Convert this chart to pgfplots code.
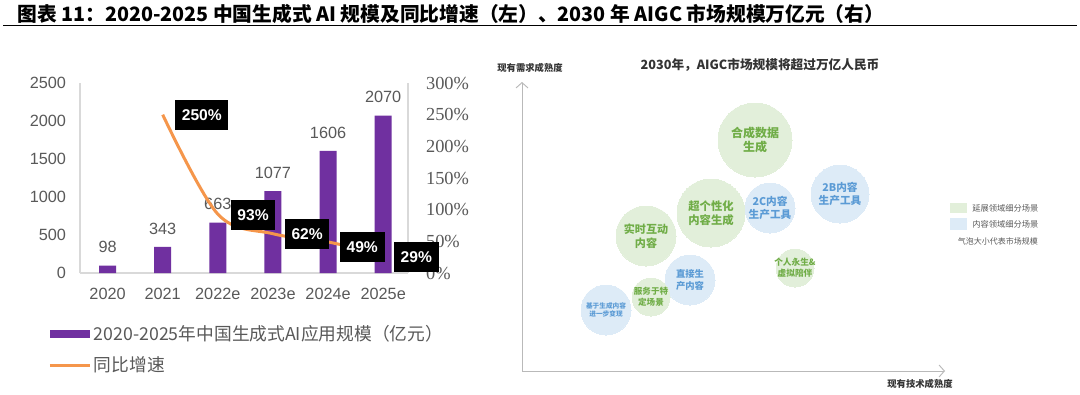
\documentclass[border=0pt]{standalone}
\usepackage{fontspec}
\setmainfont{Liberation Sans}
\newfontfamily\cjk{Noto Sans CJK SC}
\newfontfamily\serifnum{Liberation Serif}
\usepackage{pgfplots}
\pgfplotsset{compat=1.18}
\usetikzlibrary{arrows.meta}
\definecolor{barpurple}{RGB}{112,48,160}
\definecolor{lineorange}{RGB}{245,150,75}
\definecolor{txtgray}{RGB}{89,89,89}
\definecolor{axgray}{RGB}{217,217,217}
\definecolor{gfill}{RGB}{226,239,218}
\definecolor{bfill}{RGB}{221,235,247}
\definecolor{gtext}{RGB}{112,173,71}
\definecolor{btext}{RGB}{91,155,213}
\tikzset{pbox/.style={fill=black, text=white, font=\bfseries\fontsize{11.7}{13}\selectfont, inner xsep=5pt, minimum height=22pt},
  gl/.style 2 args={font=\cjk\bfseries\fontsize{#1}{#2}\selectfont, text=gtext, align=center, inner sep=0pt},
  bl/.style 2 args={font=\cjk\bfseries\fontsize{#1}{#2}\selectfont, text=btext, align=center, inner sep=0pt}}
\pgfplotsset{
  gb/.style={only marks, mark=*, color=gfill, mark options={fill=gfill, draw=gfill, line width=0pt}},
  bb/.style={only marks, mark=*, color=bfill, mark options={fill=bfill, draw=bfill, line width=0pt}}}
\begin{document}
\begin{tikzpicture}
\path[fill=white] (0,0) rectangle (810pt,295.5pt);
\node[anchor=west, inner sep=0pt, font=\cjk\bfseries\fontsize{14.8}{16}\selectfont] at (12.75pt,285pt) {图表 11：2020-2025 中国生成式 AI 规模及同比增速（左）、2030 年 AIGC 市场规模万亿元（右）};
\draw[line width=1.1pt] (2.25pt,276.2pt) -- (807.75pt,276.2pt);

% ---------- left chart: bars ----------
\begin{axis}[
  at={(60pt,90.75pt)}, anchor=south west, scale only axis,
  width=246pt, height=142.5pt,
  xmin=-0.5, xmax=5.45, ymin=0, ymax=2500,
  axis x line*=bottom, axis y line*=left,
  axis line style={draw=axgray, line width=0.8pt},
  xtick={0,...,5}, xticklabels={2020,2021,2022e,2023e,2024e,2025e},
  ytick={0,500,...,2500},
  major tick length=0pt,
  tick label style={font=\fontsize{12.2}{14}\selectfont, text=txtgray},
  /pgf/number format/assume math mode=true,
  /pgf/number format/1000 sep={},
  yticklabel style={xshift=-7pt},
  xticklabel style={yshift=-8pt},
  clip=false,
  legend cell align=left,
  legend style={at={(-0.0976,-0.258)}, anchor=north west, draw=none, fill=none, inner sep=0pt,
    font=\cjk\fontsize{13.3}{15}\selectfont, text=txtgray, row sep=7pt,
    /tikz/every even column/.style={column sep=3pt}},
]
\addplot[ybar, bar width=12.75pt, fill=barpurple, draw=none,
  nodes near coords,
  nodes near coords style={font=\fontsize{12.2}{14}\selectfont, text=txtgray, yshift=6pt},
  legend image code/.code={\fill[barpurple] (0pt,-3pt) rectangle (30pt,3pt);}]
  coordinates {(0,98)(1,343)(2,663)(3,1077)(4,1606)(5,2070)};
\addlegendentry{2020-2025年中国生成式AI应用规模（亿元）}
\addlegendimage{lineorange, legend image code/.code={\draw[lineorange, line width=2.25pt] (0pt,0pt) -- (30pt,0pt);}}
\addlegendentry{同比增速}
\end{axis}

% ---------- left chart: growth line ----------
\begin{axis}[
  at={(60pt,90.75pt)}, anchor=south west, scale only axis,
  width=246pt, height=142.5pt,
  xmin=-0.5, xmax=5.45, ymin=0, ymax=300,
  axis x line=none, axis y line*=right, xtick=\empty,
  axis line style={draw=axgray, line width=0.8pt},
  ytick={0,50,...,300},
  yticklabel={\pgfmathprintnumber{\tick}\%},
  major tick length=0pt,
  yticklabel style={font=\serifnum\fontsize{13.8}{15}\selectfont, text=txtgray, xshift=10pt},
  /pgf/number format/assume math mode=true,
  clip=false,
]
\addplot[lineorange, line width=2.25pt, smooth, tension=0.55] coordinates {(1,250)(2,93)(3,62)(4,49)(5,29)};
\node[pbox] at (axis cs:1.71,249.5) {250\%};
\node[pbox] at (axis cs:2.64,91.6) {93\%};
\node[pbox] at (axis cs:3.62,61.6) {62\%};
\node[pbox] at (axis cs:4.62,41) {49\%};
\node[pbox] at (axis cs:5.6,25.3) {29\%};
\end{axis}

% ---------- right chart: bubbles ----------
\begin{axis}[
  at={(391.5pt,17.25pt)}, anchor=south west, scale only axis,
  width=317.25pt, height=216.75pt,
  xmin=522, xmax=945, ymin=23, ymax=312,
  axis lines=left,
  axis line style={draw=gray!55, line width=0.7pt, -{Straight Barb[length=4pt,width=9pt]}},
  xtick=\empty, ytick=\empty,
  clip=false,
]
\addplot[gb, mark size=27.75pt] coordinates {(755,254)};
\addplot[gb, mark size=22.5pt] coordinates {(646,158)};
\addplot[gb, mark size=25.5pt] coordinates {(711,181)};
\addplot[bb, mark size=18.75pt] coordinates {(770,186)};
\addplot[bb, mark size=21.75pt] coordinates {(840,200)};
\addplot[gb, mark size=14.25pt] coordinates {(795,126)};
\addplot[bb, mark size=18.75pt] coordinates {(690,114)};
\addplot[gb, mark size=14.25pt] coordinates {(651,97)};
\addplot[bb, mark size=18.75pt] coordinates {(606,84)};
\coordinate (pA) at (axis cs:755,254);
\coordinate (pB) at (axis cs:711,181);
\coordinate (pC) at (axis cs:770,186);
\coordinate (pD) at (axis cs:840,200);
\coordinate (pE) at (axis cs:646,158);
\coordinate (pF) at (axis cs:795,126);
\coordinate (pG) at (axis cs:690,114);
\coordinate (pH) at (axis cs:651,97);
\coordinate (pI) at (axis cs:606,84);
\end{axis}
\node[gl={9}{11}] at (pA) {合成数据\\生成};
\node[gl={8.5}{10.5}] at (pB) {超个性化\\内容生成};
\node[bl={8}{10}] at (pC) {2C内容\\生产工具};
\node[bl={8}{10}] at (pD) {2B内容\\生产工具};
\node[gl={8.3}{10.3}] at (pE) {实时互动\\内容};
\node[gl={6.5}{8}] at (pF) {个人永生\&\\虚拟陪伴};
\node[bl={7}{8.8}] at (pG) {直接生\\产内容};
\node[gl={6.4}{8}] at (pH) {服务于特\\定场景};
\node[bl={5}{6.5}] at (pI) {基于生成内容\\进一步变现};

\node[font=\cjk\bfseries\fontsize{9.5}{11}\selectfont, text=black!80] at (570pt,246.75pt) {2030年，AIGC市场规模将超过万亿人民币};
\node[font=\cjk\bfseries\fontsize{7}{8}\selectfont, text=black!80] at (397.5pt,244.5pt) {现有需求成熟度};
\node[font=\cjk\bfseries\fontsize{7}{8}\selectfont, text=black!80] at (690pt,7.5pt) {现有技术成熟度};
% right legend
\fill[gfill] (712.5pt,135.75pt) rectangle (725.25pt,143.25pt);
\fill[bfill] (712.5pt,123pt) rectangle (725.25pt,132pt);
\node[anchor=west, inner sep=0pt, font=\cjk\fontsize{6.2}{7}\selectfont, text=black!65] at (729pt,139.5pt) {延展领域细分场景};
\node[anchor=west, inner sep=0pt, font=\cjk\fontsize{6.2}{7}\selectfont, text=black!65] at (729pt,127.5pt) {内容领域细分场景};
\node[anchor=east, inner sep=0pt, font=\cjk\fontsize{6}{7}\selectfont, text=black!65] at (778.5pt,114.75pt) {气泡大小代表市场规模};
\end{tikzpicture}
\end{document}
